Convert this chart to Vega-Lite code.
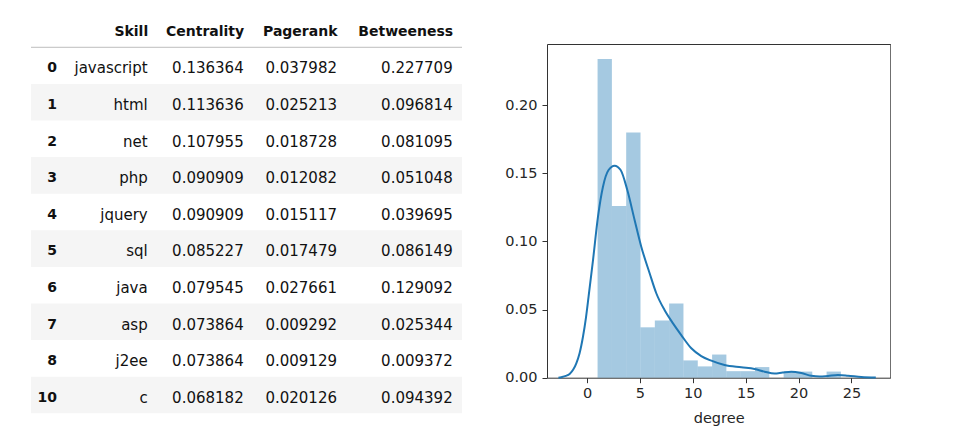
{
  "$schema": "https://vega.github.io/schema/vega-lite/v6.json",
  "padding": {"left": 30, "top": 24, "right": 0, "bottom": 0},
  "spacing": 41,
  "config": {"view": {"stroke": null}},
  "hconcat": [
    {
      "width": 431,
      "height": 369.3,
      "data": {"values": [
        {"idx": 0, "Skill": "javascript", "Centrality": 0.136364, "Pagerank": 0.037982, "Betweeness": 0.227709},
        {"idx": 1, "Skill": "html", "Centrality": 0.113636, "Pagerank": 0.025213, "Betweeness": 0.096814},
        {"idx": 2, "Skill": "net", "Centrality": 0.107955, "Pagerank": 0.018728, "Betweeness": 0.081095},
        {"idx": 3, "Skill": "php", "Centrality": 0.090909, "Pagerank": 0.012082, "Betweeness": 0.051048},
        {"idx": 4, "Skill": "jquery", "Centrality": 0.090909, "Pagerank": 0.015117, "Betweeness": 0.039695},
        {"idx": 5, "Skill": "sql", "Centrality": 0.085227, "Pagerank": 0.017479, "Betweeness": 0.086149},
        {"idx": 6, "Skill": "java", "Centrality": 0.079545, "Pagerank": 0.027661, "Betweeness": 0.129092},
        {"idx": 7, "Skill": "asp", "Centrality": 0.073864, "Pagerank": 0.009292, "Betweeness": 0.025344},
        {"idx": 8, "Skill": "j2ee", "Centrality": 0.073864, "Pagerank": 0.009129, "Betweeness": 0.009372},
        {"idx": 10, "Skill": "c", "Centrality": 0.068182, "Pagerank": 0.020126, "Betweeness": 0.094392}
      ]},
      "transform": [{"window": [{"op": "row_number", "as": "rn"}]}],
      "encoding": {
        "y": {"field": "idx", "type": "ordinal", "scale": {"paddingInner": 0, "paddingOuter": 0.045, "align": 1}, "axis": null}
      },
      "layer": [
        {
          "transform": [{"filter": "datum.rn % 2 == 0"}],
          "mark": {"type": "rect", "color": "#f5f5f5"}
        },
        {
          "transform": [{"filter": "datum.rn == 1"}],
          "mark": {"type": "rule", "color": "#bdbdbd", "strokeWidth": 1},
          "encoding": {"y": {"field": "idx", "type": "ordinal", "bandPosition": 0}}
        },
        {
          "mark": {"type": "text", "align": "right", "dy": 2.8, "font": "DejaVu Sans", "fontWeight": "bold", "fontSize": 14, "color": "#111"},
          "encoding": {
            "x": {"datum": 0, "type": "quantitative",
              "scale": {"domain": [0, 1, 2, 3, 4], "range": [26, 116.7, 212.7, 306, 421.7], "nice": false, "zero": false},
              "axis": {"orient": "top", "title": null, "values": [1, 2, 3, 4], "grid": false, "domain": false, "ticks": false, "tickSize": 0, "labelAngle": 0, "labelAlign": "right", "labelFlush": false, "labelOverlap": false, "labelBaseline": "alphabetic", "labelFont": "DejaVu Sans", "labelFontWeight": "bold", "labelFontSize": 14, "labelColor": "#111", "labelPadding": 8.3, "labelExpr": "['', 'Skill', 'Centrality', 'Pagerank', 'Betweeness'][datum.value]"}},
            "text": {"field": "idx"}
          }
        },
        {
          "mark": {"type": "text", "align": "right", "dy": 2.8, "font": "DejaVu Sans", "fontSize": 15, "color": "#111"},
          "encoding": {"x": {"datum": 1, "type": "quantitative"}, "text": {"field": "Skill"}}
        },
        {
          "mark": {"type": "text", "align": "right", "dy": 2.8, "font": "DejaVu Sans", "fontSize": 15, "color": "#111"},
          "encoding": {"x": {"datum": 2, "type": "quantitative"}, "text": {"field": "Centrality", "format": ".6f"}}
        },
        {
          "mark": {"type": "text", "align": "right", "dy": 2.8, "font": "DejaVu Sans", "fontSize": 15, "color": "#111"},
          "encoding": {"x": {"datum": 3, "type": "quantitative"}, "text": {"field": "Pagerank", "format": ".6f"}}
        },
        {
          "mark": {"type": "text", "align": "right", "dy": 2.8, "font": "DejaVu Sans", "fontSize": 15, "color": "#111"},
          "encoding": {"x": {"datum": 4, "type": "quantitative"}, "text": {"field": "Betweeness", "format": ".6f"}}
        }
      ]
    },
    {
      "width": 343.3,
      "height": 333.7,
      "view": {"stroke": "#333", "strokeWidth": 1},
      "layer": [
        {
          "data": {"values": [
            {"bin_start": 1.0, "bin_end": 2.353, "density": 0.234},
            {"bin_start": 2.353, "bin_end": 3.706, "density": 0.126},
            {"bin_start": 3.706, "bin_end": 5.059, "density": 0.180},
            {"bin_start": 5.059, "bin_end": 6.412, "density": 0.037},
            {"bin_start": 6.412, "bin_end": 7.765, "density": 0.042},
            {"bin_start": 7.765, "bin_end": 9.118, "density": 0.0545},
            {"bin_start": 9.118, "bin_end": 10.471, "density": 0.0127},
            {"bin_start": 10.471, "bin_end": 11.824, "density": 0.0083},
            {"bin_start": 11.824, "bin_end": 13.176, "density": 0.017},
            {"bin_start": 13.176, "bin_end": 14.529, "density": 0.0048},
            {"bin_start": 14.529, "bin_end": 15.882, "density": 0.0048},
            {"bin_start": 15.882, "bin_end": 17.235, "density": 0.0078},
            {"bin_start": 17.235, "bin_end": 18.588, "density": 0},
            {"bin_start": 18.588, "bin_end": 19.941, "density": 0.0045},
            {"bin_start": 19.941, "bin_end": 21.294, "density": 0.0045},
            {"bin_start": 21.294, "bin_end": 22.647, "density": 0},
            {"bin_start": 22.647, "bin_end": 24.0, "density": 0.0045}
          ]},
          "mark": {"type": "rect", "color": "#1f77b4", "opacity": 0.4},
          "encoding": {
            "x": {"field": "bin_start", "type": "quantitative",
              "scale": {"domain": [-3.78, 28.67], "nice": false, "zero": false},
              "axis": {"values": [0, 5, 10, 15, 20, 25], "title": "degree", "grid": false, "domain": false, "tickSize": 5, "tickColor": "#333", "labelPadding": 4, "labelFlush": false, "labelFont": "DejaVu Sans", "labelFontSize": 14.5, "labelColor": "#262626", "titleFont": "DejaVu Sans", "titleFontSize": 14.5, "titleFontWeight": "normal", "titleColor": "#262626", "titlePadding": 11}},
            "x2": {"field": "bin_end"},
            "y": {"field": "density", "type": "quantitative",
              "scale": {"domain": [0, 0.245], "nice": false},
              "axis": {"values": [0, 0.05, 0.1, 0.15, 0.2], "format": ".2f", "title": null, "grid": false, "domain": false, "tickSize": 5, "tickColor": "#333", "labelPadding": 5, "labelFont": "DejaVu Sans", "labelFontSize": 14.5, "labelColor": "#262626"}}
          }
        },
        {
          "data": {"values": [
            {"x": -2.7, "y": 0.0}, {"x": -2.43, "y": 0.0004}, {"x": -2.0, "y": 0.0013}, {"x": -1.64, "y": 0.0028},
            {"x": -1.3, "y": 0.006}, {"x": -1.01, "y": 0.0106}, {"x": -0.7, "y": 0.018}, {"x": -0.38, "y": 0.0301},
            {"x": -0.1, "y": 0.044}, {"x": 0.15, "y": 0.0595}, {"x": 0.57, "y": 0.0864}, {"x": 1.04, "y": 0.1182},
            {"x": 1.51, "y": 0.1402}, {"x": 2.04, "y": 0.1525}, {"x": 2.61, "y": 0.1557}, {"x": 3.18, "y": 0.1525},
            {"x": 3.81, "y": 0.1378}, {"x": 4.5, "y": 0.1158}, {"x": 5.13, "y": 0.0962}, {"x": 5.92, "y": 0.0767},
            {"x": 6.55, "y": 0.062}, {"x": 7.33, "y": 0.0497}, {"x": 8.13, "y": 0.0399}, {"x": 8.91, "y": 0.0313},
            {"x": 9.86, "y": 0.0216}, {"x": 10.8, "y": 0.0159}, {"x": 11.75, "y": 0.0125}, {"x": 13.0, "y": 0.0093},
            {"x": 14.58, "y": 0.0076}, {"x": 15.84, "y": 0.0064}, {"x": 16.79, "y": 0.0044}, {"x": 17.73, "y": 0.003},
            {"x": 18.5, "y": 0.0038}, {"x": 19.31, "y": 0.0044}, {"x": 20.26, "y": 0.0034}, {"x": 21.2, "y": 0.0014},
            {"x": 22.0, "y": 0.0008}, {"x": 22.78, "y": 0.0013}, {"x": 23.72, "y": 0.002}, {"x": 24.67, "y": 0.0015},
            {"x": 25.93, "y": 0.0005}, {"x": 27.3, "y": 0.0001}
          ]},
          "mark": {"type": "line", "color": "#1f77b4", "strokeWidth": 2, "interpolate": "monotone"},
          "encoding": {
            "x": {"field": "x", "type": "quantitative"},
            "y": {"field": "y", "type": "quantitative"}
          }
        }
      ]
    }
  ]
}
